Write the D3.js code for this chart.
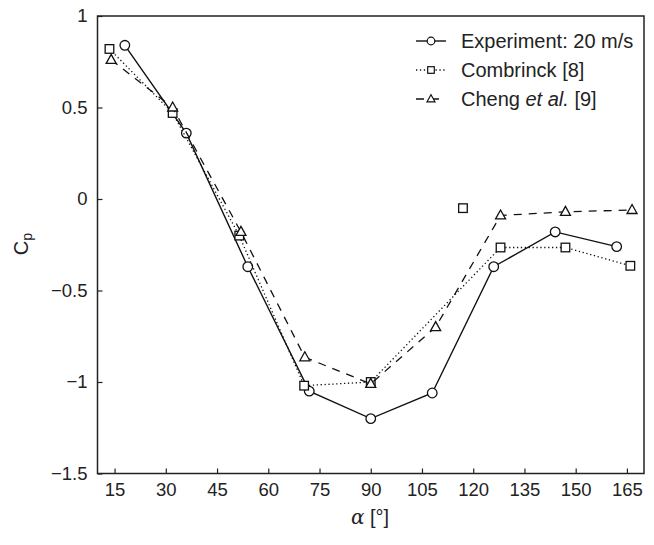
<!DOCTYPE html>
<html><head><meta charset="utf-8">
<script src="https://cdn.jsdelivr.net/npm/d3@7"></script>
<style>body{margin:0;background:#fff}svg{display:block}text{font-family:"Liberation Sans",Arial,sans-serif;fill:#222}</style>
</head><body><svg id="c" width="654" height="545"></svg>
<script>
const expAlpha=[18,36,54,72,90,108,126,144,162];
const expCp=[0.84,0.36,-0.37,-1.05,-1.20,-1.06,-0.37,-0.18,-0.26];
const comAlpha=[13.5,32,51.5,70.5,90,128,147,166];
const comCp=[0.82,0.47,-0.20,-1.02,-1.0,-0.265,-0.265,-0.365];
const comExtraAlpha=[117];
const comExtraCp=[-0.05];
const chAlpha=[14,32,52,70.7,90,109,128,147,166.5];
const chCp=[0.76,0.50,-0.18,-0.865,-1.01,-0.70,-0.09,-0.07,-0.06];
const xTicks=[15,30,45,60,75,90,105,120,135,150,165];
const yTicks=[1,0.5,0,-0.5,-1,-1.5];
const legendLabels=["Experiment: 20 m/s","Combrinck [8]","Cheng et al. [9]"];

const svg=d3.select("#c");
const x=d3.scaleLinear([10,170],[97.5,644]);
const y=d3.scaleLinear([-1.5,1],[473.5,16]);
const fmt=v=>v<0?"\u2212"+Math.abs(v):String(v);

const gx=svg.append("g").attr("transform","translate(0,473.5)")
 .call(d3.axisBottom(x).tickValues(xTicks).tickSize(-5).tickPadding(9).tickFormat(d=>d));
const gy=svg.append("g").attr("transform","translate(97.5,0)")
 .call(d3.axisLeft(y).tickValues(yTicks).tickSize(-5).tickPadding(10).tickFormat(fmt));
[gx,gy].forEach(g=>{g.select(".domain").remove();g.selectAll("line").attr("stroke","#222").attr("stroke-width",1.2);
 g.selectAll("text").attr("font-size",18.5).attr("fill","#222").style("font-family","'Liberation Sans',Arial,sans-serif");});

svg.append("rect").attr("x",97.5).attr("y",16).attr("width",546.5).attr("height",457.5)
 .attr("fill","none").attr("stroke","#222").attr("stroke-width",1.5);

const series=[
 {a:expAlpha,v:expCp,ea:[],ev:[],dash:null,w:1.4,m:"circle"},
 {a:comAlpha,v:comCp,ea:comExtraAlpha,ev:comExtraCp,dash:"1.3,2.6",w:1.3,m:"square"},
 {a:chAlpha,v:chCp,ea:[],ev:[],dash:"8,7",w:1.3,m:"triangle"}];
const line=d3.line().x(d=>x(d[0])).y(d=>y(d[1]));
function marker(g,type,cx,cy){
 if(type==="circle") g.append("circle").attr("cx",cx).attr("cy",cy).attr("r",4.8);
 else if(type==="square") g.append("rect").attr("x",cx-4.3).attr("y",cy-4.3).attr("width",8.6).attr("height",8.6);
 else g.append("path").attr("d",`M${cx},${cy-5.5}L${cx+5},${cy+3.5}L${cx-5},${cy+3.5}Z`);
}
series.forEach(s=>{
 const pts=s.a.map((a,i)=>[a,s.v[i]]);
 svg.append("path").attr("d",line(pts)).attr("fill","none").attr("stroke","#111")
  .attr("stroke-width",s.w).attr("stroke-dasharray",s.dash);
 const g=svg.append("g").attr("fill","#fff").attr("stroke","#111").attr("stroke-width",1.3);
 pts.forEach(p=>marker(g,s.m,x(p[0]),y(p[1])));
 s.ea.forEach((a,i)=>marker(g,s.m,x(a),y(s.ev[i])));
});

// legend
const ly=[41,70,99];
series.forEach((s,i)=>{
 svg.append("line").attr("x1",416).attr("x2",446).attr("y1",ly[i]).attr("y2",ly[i])
  .attr("stroke","#111").attr("stroke-width",s.w).attr("stroke-dasharray",s.dash);
 const g=svg.append("g").attr("fill","#fff").attr("stroke","#111").attr("stroke-width",1.2);
 const cx=431;
 if(s.m==="circle") g.append("circle").attr("cx",cx).attr("cy",ly[i]).attr("r",3.8);
 else if(s.m==="square") g.append("rect").attr("x",cx-3.3).attr("y",ly[i]-3.3).attr("width",6.6).attr("height",6.6);
 else g.append("path").attr("d",`M${cx},${ly[i]-4.2}L${cx+4},${ly[i]+2.8}L${cx-4},${ly[i]+2.8}Z`);
 const t=svg.append("text").attr("x",461).attr("y",ly[i]).attr("dy","0.35em").attr("font-size",20);
 if(i===2){t.append("tspan").text("Cheng ");t.append("tspan").attr("font-style","italic").text("et al.");t.append("tspan").text(" [9]");}
 else t.text(legendLabels[i]);
});

// axis titles
const xl=svg.append("text").attr("x",370).attr("y",524).attr("text-anchor","middle").attr("font-size",20);
xl.append("tspan").attr("font-style","italic").attr("font-family","'DejaVu Serif',serif").text("\u03b1");
xl.append("tspan").text(" [\u00b0]");
const yl=svg.append("text").attr("transform","translate(28,244) rotate(-90)").attr("text-anchor","middle").attr("font-size",20);
yl.append("tspan").text("C");
yl.append("tspan").attr("font-size",14).attr("dy",4).text("p");
</script></body></html>
